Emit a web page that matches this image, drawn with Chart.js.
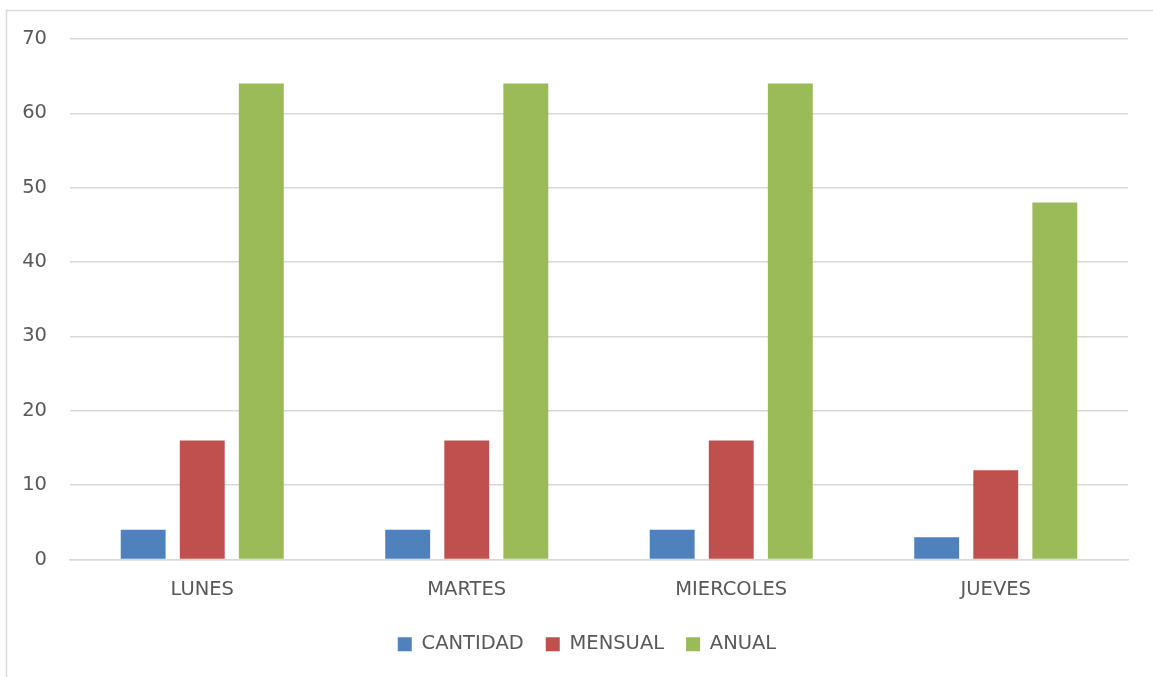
<!DOCTYPE html>
<html>
<head>
<meta charset="utf-8">
<script src="https://cdn.jsdelivr.net/npm/chart.js@4.4.0/dist/chart.umd.min.js"></script>
<style>
  html, body { margin: 0; padding: 0; background: #fff; }
  #wrap { position: absolute; left: 0; top: 0; width: 1153px; height: 677px; }
</style>
</head>
<body>
<div id="wrap"><canvas id="chart" width="1153" height="677"></canvas></div>
<script>
const dias = ['LUNES', 'MARTES', 'MIERCOLES', 'JUEVES'];
const cantidad = [4, 4, 4, 3];
const mensual = [16, 16, 16, 12];
const anual = [64, 64, 64, 48];

// frame line around the chart (left and top visible), legend nudged right
const frame = {
    id: 'frame',
    afterLayout(c) {
        c.legend.left += 23;
        c.legend.right += 23;
    },
    beforeDraw(c) {
        const ctx = c.ctx;
        ctx.save();
        ctx.fillStyle = '#fff';
        ctx.fillRect(0, 0, c.width, c.height);
        ctx.strokeStyle = '#d9d9d9';
        ctx.lineWidth = 1.5;
        ctx.strokeRect(6.5, 10.5, 1300, 800);
        ctx.restore();
    }
};

const ctx = document.getElementById('chart').getContext('2d');
new Chart(ctx, {
    type: 'bar',
    data: {
        labels: dias,
        datasets: [
            { label: 'CANTIDAD', data: cantidad, backgroundColor: '#4f81bd' },
            { label: 'MENSUAL', data: mensual, backgroundColor: '#c0504d' },
            { label: 'ANUAL', data: anual, backgroundColor: '#9bbb59' }
        ]
    },
    options: {
        responsive: false,
        animation: false,
        categoryPercentage: 0.67,
        barPercentage: 0.76,
        layout: { padding: { left: 0, right: 25, top: 39, bottom: 13 } },
        plugins: {
            legend: {
                position: 'bottom',
                labels: {
                    boxWidth: 14, boxHeight: 14, padding: 22,
                    color: '#595959',
                    font: { family: 'DejaVu Sans', size: 19.5 }
                }
            },
            tooltip: { enabled: false }
        },
        scales: {
            x: {
                grid: { display: false, drawTicks: false },
                border: { color: '#d9d9d9', width: 1.5 },
                ticks: { color: '#595959', padding: 19, font: { family: 'DejaVu Sans', size: 19.5 } },
                afterFit: s => { s.height = 53; }
            },
            y: {
                min: 0, max: 70,
                ticks: { stepSize: 10, color: '#595959', padding: 23, font: { family: 'DejaVu Sans', size: 19.5 } },
                grid: { color: '#d9d9d9', lineWidth: 1.5, drawTicks: false },
                border: { display: false },
                afterFit: s => { s.width = 70; }
            }
        }
    },
    plugins: [frame]
});
</script>
</body>
</html>
